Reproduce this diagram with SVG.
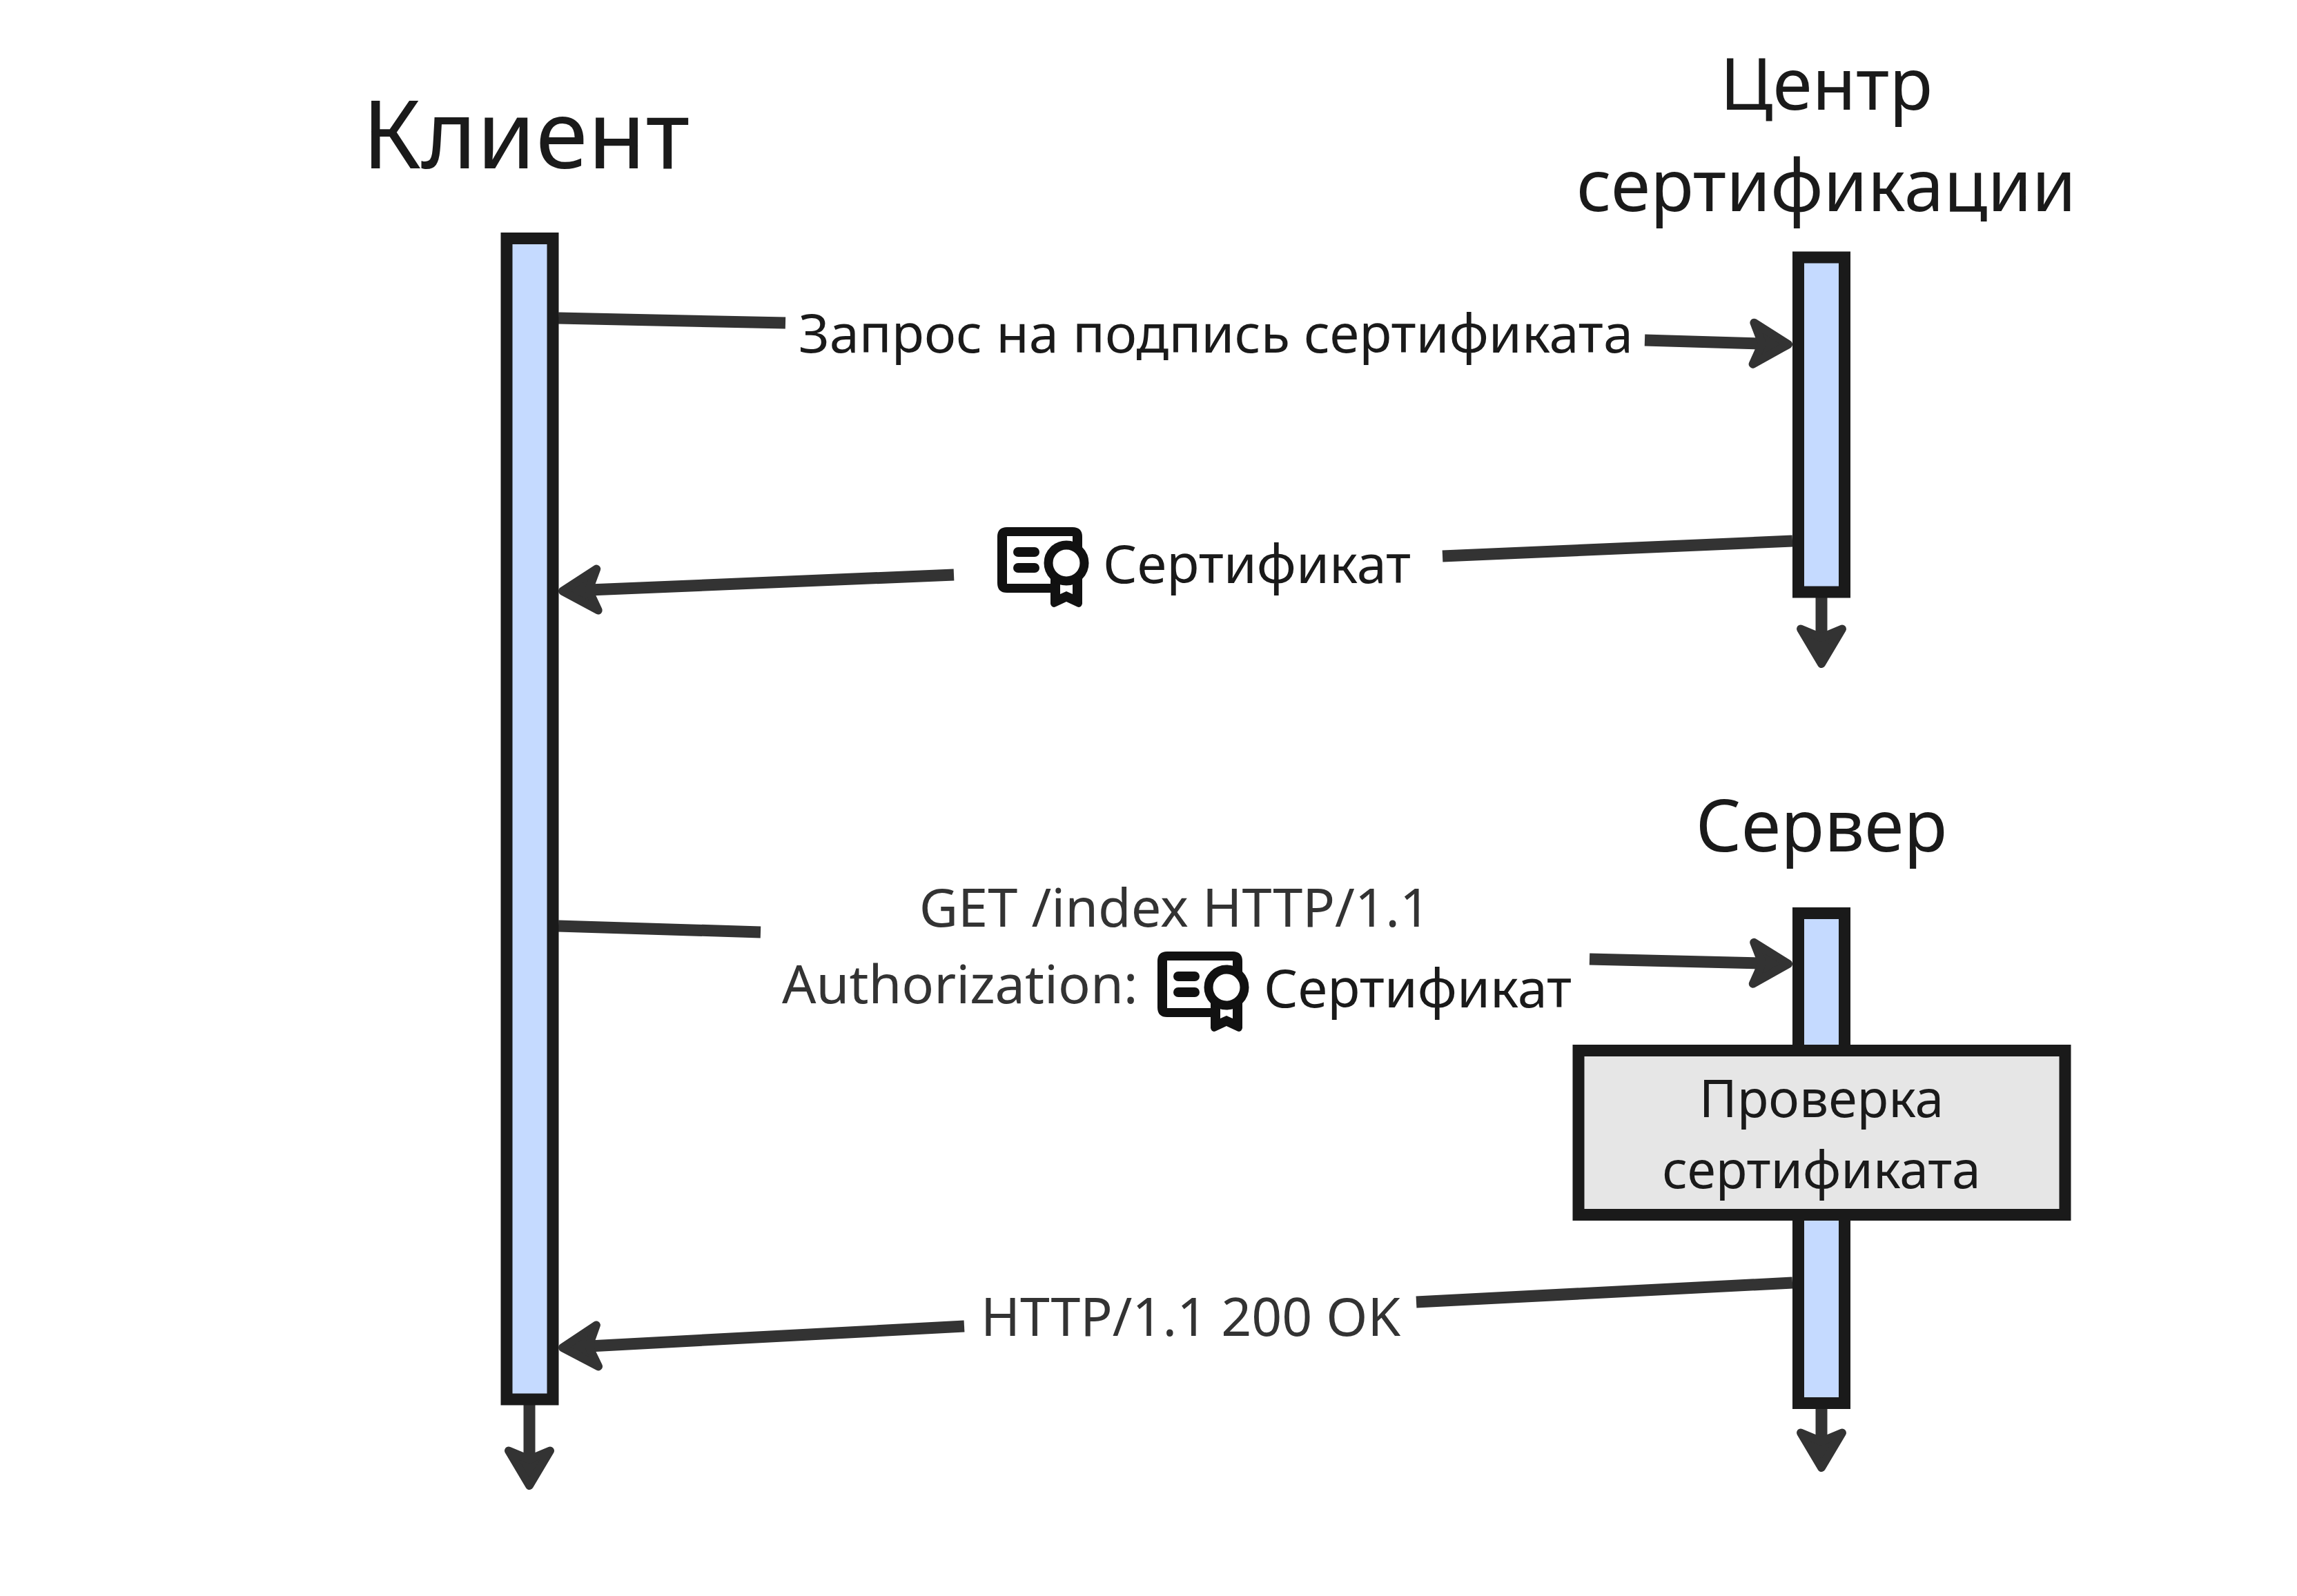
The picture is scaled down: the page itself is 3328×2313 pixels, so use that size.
<svg xmlns="http://www.w3.org/2000/svg" xmlns:xlink="http://www.w3.org/1999/xlink" width="3328" height="2313" viewBox="0 0 3328 2313">
<style>
text{font-family:"Noto Sans","Open Sans",sans-serif;fill:#1a1a1a}
.mid{text-anchor:middle}
.lbl{font-size:77.5px}
.soft{fill:#333}
.life{fill:#c5daff;stroke:#1a1a1a;stroke-width:17}
.box{fill:#e6e6e6;stroke:#1a1a1a;stroke-width:17}
.edge{fill:none;stroke:#333;stroke-width:17}
.arrow{marker-end:url(#head)}
</style>
<defs>
<marker id="head" markerUnits="userSpaceOnUse" markerWidth="90" markerHeight="90" refX="-39" refY="0" orient="auto" viewBox="-70 -45 90 90" overflow="visible">
<path d="M-50.500 -30 L0 0 L-50.500 30 L-38 0 Z" fill="#333" stroke="#333" stroke-width="12" stroke-linejoin="round"/>
</marker>
<g id="cert">
<path d="M77 95H14Q0 95 0 81V14Q0 0 14 0H109Q123 0 123 14V50H109V13H14V82H77Z" fill="#111"/>
<rect x="23" y="29" width="38" height="14" rx="7" fill="#111"/>
<rect x="23" y="52" width="38" height="14" rx="7" fill="#111"/>
<path d="M77 70V111Q79 118 85 115L100 108L115 115Q121 118 123 111V70Z" fill="#111"/>
<path d="M91 83H109V97L100 93L91 97Z" fill="#fff"/>
<circle cx="100" cy="52" r="26" fill="#fff" stroke="#111" stroke-width="13"/>
</g>
</defs>
<rect width="3328" height="2313" fill="#fff"/>
<g id="connectors">
<path class="edge" d="M809 461L1138 468"/>
<path class="edge arrow" d="M2383 493L2552 498"/>
<path class="edge" d="M2597 784L2090 806"/>
<path class="edge arrow" d="M1382 833L854 855"/>
<path class="edge" d="M809 1342L1102 1351"/>
<path class="edge arrow" d="M2303 1390L2552 1396"/>
<path class="edge" d="M2597 1859L2052 1887"/>
<path class="edge arrow" d="M1397 1922L854 1951"/>
<path class="edge arrow" d="M767 2028V2114"/>
<path class="edge arrow" d="M2639 858V923"/>
<path class="edge arrow" d="M2639 2033V2088"/>
</g>
<g id="client"><rect class="life" x="734" y="345.5" width="67" height="1682.5"/>
<text class="mid" x="762" y="244" font-size="137">Клиент</text></g>
<g id="ca"><rect class="life" x="2605.500" y="373" width="67" height="485"/>
<text class="mid" x="2646" y="159" font-size="103.500">Центр</text>
<text class="mid" x="2646" y="306" font-size="103.500">сертификации</text></g>
<g id="server"><rect class="life" x="2605.500" y="1323.500" width="67" height="710"/>
<text class="mid" x="2639" y="1234" font-size="103.500">Сервер</text></g>
<g id="check"><rect class="box" x="2287" y="1522.500" width="705" height="238"/>
<text class="mid" x="2639" y="1619" font-size="75">Проверка</text>
<text class="mid" x="2639" y="1722" font-size="75">сертификата</text></g>
<g id="label-csr"><text class="lbl" x="1157" y="511">Запрос на подпись сертификата</text></g>
<g id="label-cert"><use href="#cert" x="1445" y="764"/><text class="lbl" x="1598" y="845">Сертификат</text></g>
<g id="label-get"><text class="lbl soft mid" x="1702" y="1343">GET /index HTTP/1.1</text>
<text class="lbl soft" x="1133" y="1454">Authorization:</text>
<use href="#cert" x="1677" y="1379"/><text class="lbl" x="1831" y="1460">Сертификат</text></g>
<g id="label-ok"><text class="soft" x="1421" y="1936" font-size="77">HTTP/1.1 200 OK</text></g>
</svg>
